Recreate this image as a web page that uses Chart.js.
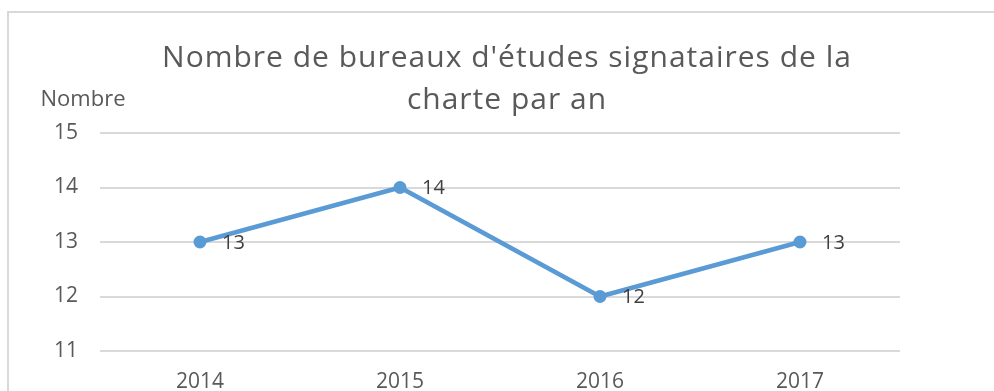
<!DOCTYPE html>
<html lang="fr">
<head>
<meta charset="utf-8">
<title>Bureaux d'études signataires</title>
<script src="https://cdn.jsdelivr.net/npm/chart.js@4"></script>
<style>
  html, body { margin: 0; padding: 0; background: #ffffff; overflow: hidden; }
  canvas { display: block; }
</style>
</head>
<body>
<canvas id="graphique" width="994" height="391"></canvas>
<script>
// Données : nombre de bureaux signataires par année
const annees = ['2014', '2015', '2016', '2017'];
const signataires = [13, 14, 12, 13];
const graduations = [11, 12, 13, 14, 15];

const titreLignes = ["Nombre de bureaux d'études signataires de la", 'charte par an'];
const uniteAxe = 'Nombre';

const police = "'Open Sans', 'Noto Sans', sans-serif";
const bleu = '#5B9BD5';
const gris = '#595959';

// Cadre gris clair, titre et libellé de l'axe vertical
const entete = {
    id: 'entete',
    beforeDraw(chart) {
        const ctx = chart.ctx;
        ctx.save();
        ctx.fillStyle = '#ffffff';
        ctx.fillRect(0, 0, chart.width, chart.height);
        ctx.strokeStyle = '#d9d9d9';
        ctx.lineWidth = 2;
        ctx.strokeRect(8, 12, 1200, 600);
        ctx.restore();
    },
    afterDraw(chart) {
        const ctx = chart.ctx;
        ctx.save();
        ctx.fillStyle = gris;
        ctx.textAlign = 'center';
        ctx.textBaseline = 'middle';
        ctx.font = '30px ' + police;
        ctx.letterSpacing = '1px';
        titreLignes.forEach((ligne, i) => ctx.fillText(ligne, 507, 58 + i * 42));
        ctx.letterSpacing = '0px';
        ctx.font = '22px ' + police;
        ctx.fillText(uniteAxe, 83, 100);
        ctx.restore();
    }
};

// Étiquettes de valeur à droite de chaque point
const etiquettes = {
    id: 'etiquettes',
    afterDatasetsDraw(chart) {
        const ctx = chart.ctx;
        const meta = chart.getDatasetMeta(0);
        ctx.save();
        ctx.fillStyle = '#404040';
        ctx.font = '20px ' + police;
        ctx.textAlign = 'left';
        ctx.textBaseline = 'middle';
        meta.data.forEach((pt, i) => {
            ctx.fillText(String(signataires[i]), pt.x + 22, pt.y + 1);
        });
        ctx.restore();
    }
};

new Chart(document.getElementById('graphique').getContext('2d'), {
    type: 'line',
    data: {
        labels: annees,
        datasets: [{
            label: 'Bureaux signataires',
            data: signataires,
            borderColor: bleu,
            backgroundColor: bleu,
            borderWidth: 4.5,
            pointRadius: 6.5,
            pointBackgroundColor: bleu,
            pointBorderWidth: 0,
            tension: 0,
            fill: false
        }]
    },
    options: {
        responsive: false,
        animation: false,
        layout: { padding: { top: 133, left: 0, right: 94, bottom: 0 } },
        plugins: {
            legend: { display: false },
            title: { display: false },
            tooltip: { enabled: false }
        },
        scales: {
            x: {
                offset: true,
                grid: { display: false, drawTicks: false },
                border: { display: false },
                ticks: { color: gris, font: { family: police, size: 21 }, padding: 18 },
                afterFit(scale) { scale.height = 40; }
            },
            y: {
                min: graduations[0],
                max: graduations[graduations.length - 1],
                afterBuildTicks(scale) { scale.ticks = graduations.map(v => ({ value: v })); },
                grid: { color: '#d9d9d9', lineWidth: 2, drawTicks: false },
                border: { display: false },
                ticks: { color: gris, font: { family: police, size: 21 }, padding: 22 },
                afterFit(scale) { scale.width = 100; }
            }
        }
    },
    plugins: [entete, etiquettes]
});
</script>
</body>
</html>
